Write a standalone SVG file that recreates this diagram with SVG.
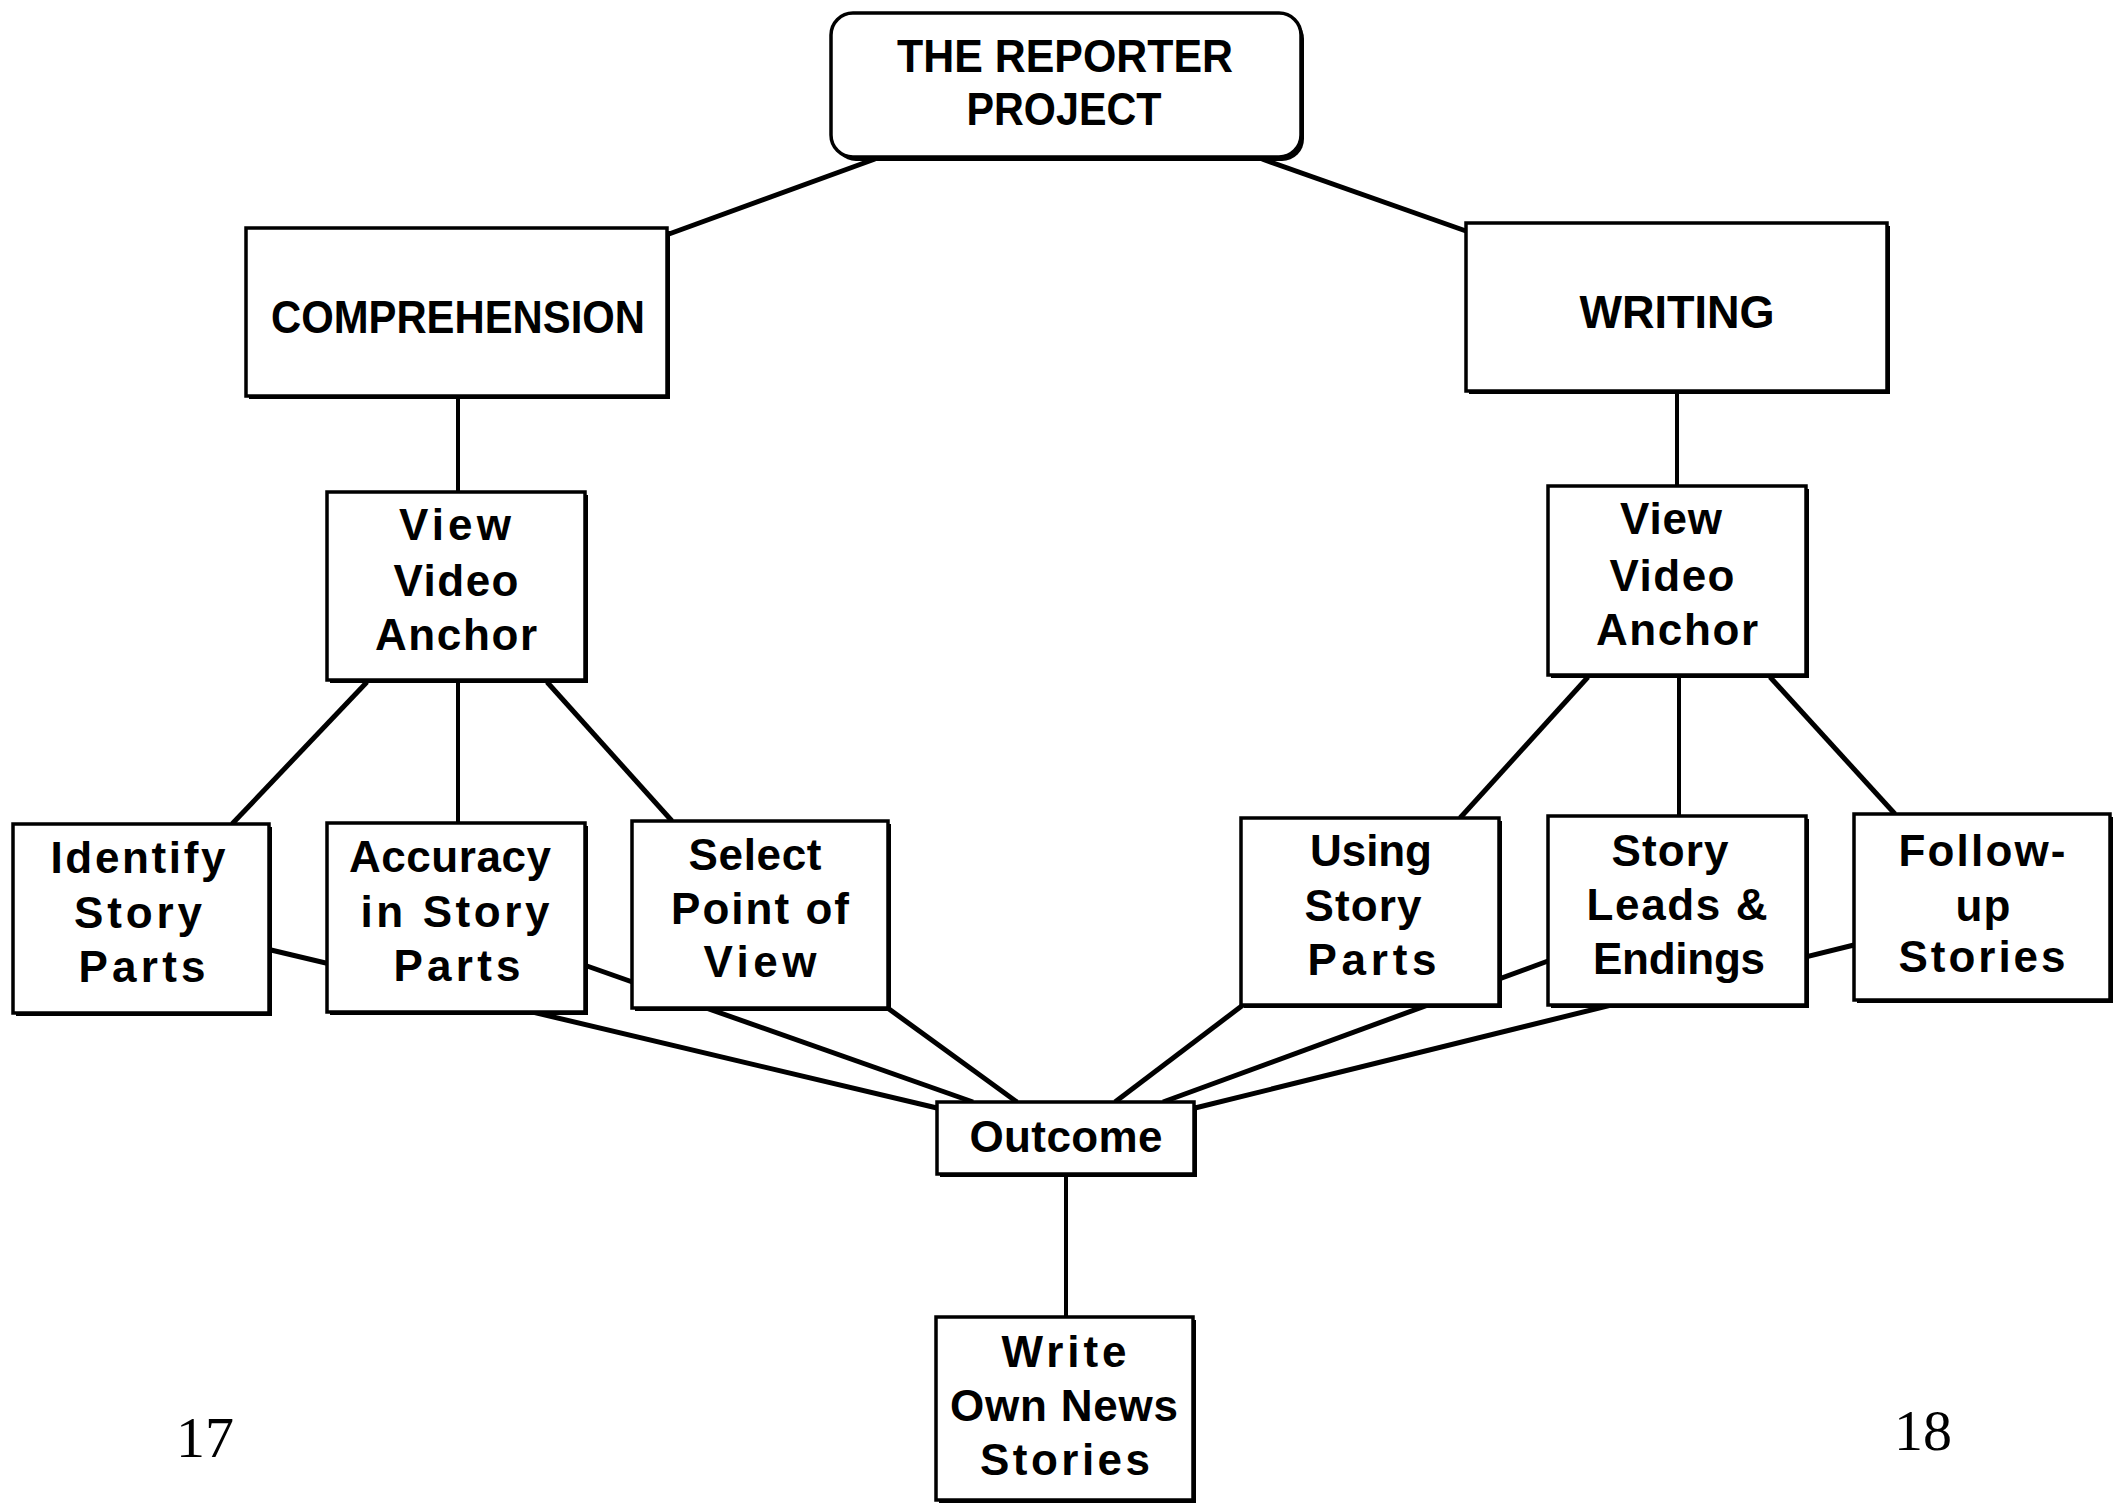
<svg xmlns="http://www.w3.org/2000/svg" width="2116" height="1507" viewBox="0 0 2116 1507">
<style>
.box{fill:#fff;stroke:#000;stroke-width:3.5}
.sh{fill:#000}
.ln{stroke:#000;stroke-width:5;fill:none}
.vl{stroke-width:4}
.t{font-family:"Liberation Sans",Arial,sans-serif;font-weight:bold;font-size:44px;text-anchor:middle;fill:#000}
.h{font-size:47px}
.pg{font-family:"Liberation Serif","Times New Roman",serif;font-size:58px;text-anchor:middle;fill:#000}
</style>
<rect width="2116" height="1507" fill="#fff"/>
<g id="connectors">
<line class="ln" x1="669" y1="234" x2="875" y2="159"/>
<line class="ln" x1="1262" y1="159" x2="1466" y2="231"/>
<line class="ln vl" x1="458" y1="398" x2="458" y2="492"/>
<line class="ln vl" x1="1677" y1="393" x2="1677" y2="486"/>
<line class="ln" x1="367" y1="682" x2="232" y2="824"/>
<line class="ln vl" x1="458" y1="682" x2="458" y2="823"/>
<line class="ln" x1="547" y1="682" x2="672" y2="821"/>
<line class="ln" x1="1588" y1="677" x2="1460" y2="818"/>
<line class="ln vl" x1="1679" y1="677" x2="1679" y2="816"/>
<line class="ln" x1="1770" y1="677" x2="1895" y2="814"/>
<line class="ln" x1="271" y1="950" x2="937" y2="1108"/>
<line class="ln" x1="587" y1="966" x2="973" y2="1102"/>
<line class="ln" x1="889" y1="1009" x2="1017" y2="1102"/>
<line class="ln" x1="1243" y1="1005" x2="1115" y2="1102"/>
<line class="ln" x1="1548" y1="961" x2="1163" y2="1102"/>
<line class="ln" x1="1854" y1="945" x2="1195" y2="1108"/>
<line class="ln vl" x1="1066" y1="1174" x2="1066" y2="1317"/>
</g>
<g id="node-reporter">
<rect class="sh" x="834" y="17" width="470" height="144" rx="22"/>
<rect class="box" x="831" y="13" width="470" height="144" rx="22"/>
<text class="t h" x="1065" y="72" textLength="336" lengthAdjust="spacingAndGlyphs">THE REPORTER</text>
<text class="t h" x="1064" y="125" textLength="195" lengthAdjust="spacingAndGlyphs">PROJECT</text>
</g>
<g id="node-comprehension">
<rect class="sh" x="249" y="231" width="421" height="168"/>
<rect class="box" x="246" y="228" width="421" height="168"/>
<text class="t h" x="458" y="333" textLength="374" lengthAdjust="spacingAndGlyphs">COMPREHENSION</text>
</g>
<g id="node-writing">
<rect class="sh" x="1469" y="226" width="421" height="168"/>
<rect class="box" x="1466" y="223" width="421" height="168"/>
<text class="t h" x="1677" y="328" textLength="195" lengthAdjust="spacingAndGlyphs">WRITING</text>
</g>
<g id="node-vva-left">
<rect class="sh" x="330" y="495" width="258" height="188"/>
<rect class="box" x="327" y="492" width="258" height="188"/>
<text class="t" x="455" y="540" textLength="112" lengthAdjust="spacing">View</text>
<text class="t" x="456" y="596" textLength="125" lengthAdjust="spacing">Video</text>
<text class="t" x="456" y="650" textLength="162" lengthAdjust="spacing">Anchor</text>
</g>
<g id="node-vva-right">
<rect class="sh" x="1551" y="489" width="258" height="189"/>
<rect class="box" x="1548" y="486" width="258" height="189"/>
<text class="t" x="1671" y="534" textLength="102" lengthAdjust="spacing">View</text>
<text class="t" x="1672" y="591" textLength="125" lengthAdjust="spacing">Video</text>
<text class="t" x="1677" y="645" textLength="162" lengthAdjust="spacing">Anchor</text>
</g>
<g id="node-identify">
<rect class="sh" x="16" y="827" width="256" height="189"/>
<rect class="box" x="13" y="824" width="256" height="189"/>
<text class="t" x="138" y="873" textLength="175" lengthAdjust="spacing">Identify</text>
<text class="t" x="138" y="928" textLength="128" lengthAdjust="spacing">Story</text>
<text class="t" x="142" y="982" textLength="127" lengthAdjust="spacing">Parts</text>
</g>
<g id="node-accuracy">
<rect class="sh" x="330" y="826" width="258" height="189"/>
<rect class="box" x="327" y="823" width="258" height="189"/>
<text class="t" x="450" y="872" textLength="202" lengthAdjust="spacing">Accuracy</text>
<text class="t" x="455" y="927" textLength="189" lengthAdjust="spacing">in  Story</text>
<text class="t" x="457" y="981" textLength="127" lengthAdjust="spacing">Parts</text>
</g>
<g id="node-select">
<rect class="sh" x="635" y="824" width="256" height="187"/>
<rect class="box" x="632" y="821" width="256" height="187"/>
<text class="t" x="755" y="870" textLength="133" lengthAdjust="spacing">Select</text>
<text class="t" x="760" y="924" textLength="178" lengthAdjust="spacing">Point of</text>
<text class="t" x="760" y="977" textLength="113" lengthAdjust="spacing">View</text>
</g>
<g id="node-using">
<rect class="sh" x="1244" y="821" width="258" height="187"/>
<rect class="box" x="1241" y="818" width="258" height="187"/>
<text class="t" x="1371" y="866" textLength="122" lengthAdjust="spacing">Using</text>
<text class="t" x="1363" y="921" textLength="117" lengthAdjust="spacing">Story</text>
<text class="t" x="1372" y="975" textLength="129" lengthAdjust="spacing">Parts</text>
</g>
<g id="node-leads">
<rect class="sh" x="1551" y="819" width="258" height="189"/>
<rect class="box" x="1548" y="816" width="258" height="189"/>
<text class="t" x="1670" y="866" textLength="117" lengthAdjust="spacing">Story</text>
<text class="t" x="1677" y="920" textLength="181" lengthAdjust="spacing">Leads &amp;</text>
<text class="t" x="1679" y="974" textLength="172" lengthAdjust="spacing">Endings</text>
</g>
<g id="node-followup">
<rect class="sh" x="1857" y="817" width="256" height="186"/>
<rect class="box" x="1854" y="814" width="256" height="186"/>
<text class="t" x="1982" y="866" textLength="167" lengthAdjust="spacing">Follow-</text>
<text class="t" x="1983" y="921" textLength="55" lengthAdjust="spacing">up</text>
<text class="t" x="1982" y="972" textLength="167" lengthAdjust="spacing">Stories</text>
</g>
<g id="node-outcome">
<rect class="sh" x="940" y="1105" width="257" height="72"/>
<rect class="box" x="937" y="1102" width="257" height="72"/>
<text class="t" x="1066" y="1152" textLength="193" lengthAdjust="spacing">Outcome</text>
</g>
<g id="node-write">
<rect class="sh" x="939" y="1320" width="257" height="183"/>
<rect class="box" x="936" y="1317" width="257" height="183"/>
<text class="t" x="1064" y="1367" textLength="125" lengthAdjust="spacing">Write</text>
<text class="t" x="1064" y="1421" textLength="228" lengthAdjust="spacing">Own News</text>
<text class="t" x="1065" y="1475" textLength="170" lengthAdjust="spacing">Stories</text>
</g>
<text class="pg" x="205" y="1457">17</text>
<text class="pg" x="1923" y="1450">18</text>
</svg>
